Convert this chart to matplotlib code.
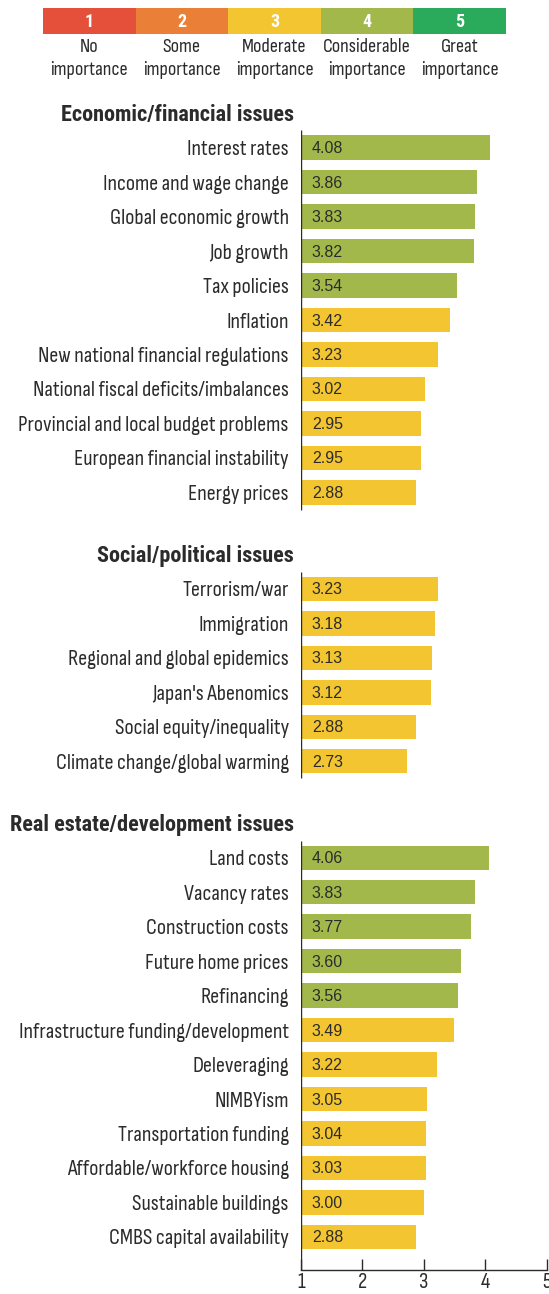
import numpy as np
import matplotlib.pyplot as plt

# survey scores, 1 = no importance ... 5 = great importance
section_titles = ["Economic/financial issues", "Social/political issues",
                  "Real estate/development issues"]

econ_labels = ["Interest rates", "Income and wage change", "Global economic growth",
               "Job growth", "Tax policies", "Inflation",
               "New national financial regulations", "National fiscal deficits/imbalances",
               "Provincial and local budget problems", "European financial instability",
               "Energy prices"]
econ_values = [4.08, 3.86, 3.83, 3.82, 3.54, 3.42, 3.23, 3.02, 2.95, 2.95, 2.88]

social_labels = ["Terrorism/war", "Immigration", "Regional and global epidemics",
                 "Japan's Abenomics", "Social equity/inequality",
                 "Climate change/global warming"]
social_values = [3.23, 3.18, 3.13, 3.12, 2.88, 2.73]

estate_labels = ["Land costs", "Vacancy rates", "Construction costs", "Future home prices",
                 "Refinancing", "Infrastructure funding/development", "Deleveraging",
                 "NIMBYism", "Transportation funding", "Affordable/workforce housing",
                 "Sustainable buildings", "CMBS capital availability"]
estate_values = [4.06, 3.83, 3.77, 3.60, 3.56, 3.49, 3.22, 3.05, 3.04, 3.03, 3.00, 2.88]

scale_numbers = ["1", "2", "3", "4", "5"]
scale_names = ["No\nimportance", "Some\nimportance", "Moderate\nimportance",
               "Considerable\nimportance", "Great\nimportance"]
scale_colors = ["#e5503a", "#ea8038", "#f3c531", "#a3b84b", "#2aaa5b"]

x_ticks = [1, 2, 3, 4, 5]

TEXT = "#2b2b2b"
COND = ["Sofia Sans Condensed", "Roboto Condensed", "DejaVu Sans"]
BOLD = ["Roboto Condensed", "Sofia Sans Condensed", "DejaVu Sans"]
plt.rcParams['font.family'] = COND

fig = plt.figure(figsize=(5.49, 12.94), dpi=100)

# legend strip at the top
lax = fig.add_axes([43 / 549, 1 - 34 / 1294, 463 / 549, 26 / 1294])
lax.bar(range(5), [1] * 5, width=1, color=scale_colors)
lax.set_xlim(-0.5, 4.5)
lax.set_ylim(0, 1)
lax.axis("off")
for i in range(5):
    lax.text(i, 0.47, scale_numbers[i], color="white", fontweight="bold", fontsize=13,
             ha="center", va="center", family=BOLD)
    lax.text(i, -0.17, scale_names[i], color=TEXT, fontsize=14.5, fontweight="light",
             ha="center", va="top", linespacing=1.3)

# main bar chart, y in rows
ax = fig.add_axes([300.8 / 549, 24 / 1294, 245.9 / 549, 1174 / 1294])
groups = [(section_titles[0], econ_labels, econ_values),
          (section_titles[1], social_labels, social_values),
          (section_titles[2], estate_labels, estate_values)]
gap = 2.8
start = 0
ticks, ticklabels = [], []
for k, (title, labels, values) in enumerate(groups):
    y = start + np.arange(len(labels))
    colors = [scale_colors[3] if v >= 3.5 else scale_colors[2] for v in values]
    ax.barh(y, np.array(values) - 1, left=1, height=0.71, color=colors)
    for yy, v in zip(y, values):
        ax.annotate(f"{v:.2f}", (1, yy), xytext=(11, -1), textcoords="offset pixels",
                    ha="left", va="center", fontsize=11.5, color=TEXT,
                    family=["Liberation Sans", "DejaVu Sans"])
    ax.annotate(title, (1, start - 0.95), xytext=(-7, 0), textcoords="offset pixels",
                ha="right", va="center", fontsize=16, fontweight="bold", color=TEXT,
                family=BOLD)
    ticks += list(y)
    ticklabels += labels
    last = y[-1]
    if k < 2:
        ax.vlines(1, start - 0.5, last + 0.5, color=TEXT, lw=1)
    start = last + gap

bottom = last + 0.96
ax.vlines(1, y[0] - 0.5, bottom, color=TEXT, lw=1)
ax.set_xlim(1, 5)
ax.set_ylim(bottom, -1.5)

ax.set_yticks(ticks, ticklabels)
ax.tick_params(axis="y", length=0, pad=8.6, labelsize=16, labelcolor=TEXT)
for t in ax.get_yticklabels():
    t.set_fontweight("light")
ax.set_xticks(x_ticks)
ax.tick_params(axis="x", direction="in", length=8, width=1, color=TEXT, pad=2,
               labelsize=16, labelcolor=TEXT)
for s in ["top", "right", "left"]:
    ax.spines[s].set_visible(False)
ax.spines["bottom"].set_color(TEXT)
ax.spines["bottom"].set_linewidth(1)

fig.savefig("out.png", dpi=100)
